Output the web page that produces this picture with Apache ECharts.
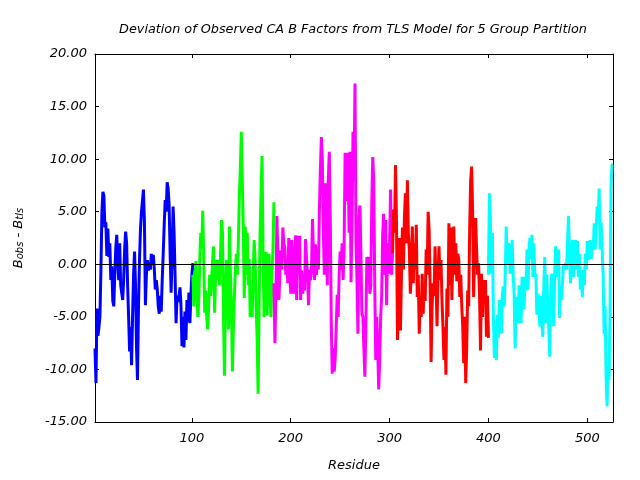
<!DOCTYPE html>
<html><head><meta charset="utf-8">
<script src="https://cdn.jsdelivr.net/npm/echarts@6/dist/echarts.min.js"></script>
<style>html,body{margin:0;padding:0;background:#fff}#c{width:640px;height:480px}</style>
</head><body><div id="c"></div>
<script>
// ---- data ----
const titleText = 'Deviation of Observed CA B Factors from TLS Model for 5 Group Partition';
const xName = 'Residue';
const xMin = 2, xMax = 526;
const xTicks = [100, 200, 300, 400, 500];
const yMin = -15, yMax = 20, yStep = 5;

const blueStart = 2;
const blueValues = [
 -8.0, -11.3, -4.2, -6.8, -6.0, -5.0, -0.5, 5.0, 6.9, 6.5,
 3.5, 4.0, 0.8, 3.4, 0.7, 2.0, -1.5, -0.2, -3.5, -4.0,
 -1.0, 1.5, 2.8, 0.2, -1.5, 2.0, -2.0, -2.7, -3.4, -1.5,
 1.5, 3.1, 2.0, -2.0, -5.0, -8.3, -6.0, -9.6, -5.0, -1.0,
 1.2, -2.0, -8.0, -11.0, -4.0, 0.4, 3.3, 5.0, 6.0, 7.1,
 4.0, -3.9, -1.0, 0.4, -0.6, 0.2, -0.5, 1.0, 0.0, 0.9,
 -0.5, -2.4, -1.5, -2.4, -4.0, -4.7, -3.0, -4.5, -1.5, 1.0,
 3.7, 6.1, 5.0, 7.8, 7.2, 5.6, 1.0, -2.7, 0.5, 5.5,
 3.0, -1.0, -5.6, -3.0, -3.6, -3.0, -2.2, -4.0, -7.8, -5.0,
 -7.9, -4.5, -7.2, -3.4, -5.5, -2.7, -5.6, -3.0, -1.0, 0.1
];
const greenStart = 101;
const greenValues = [
 -1.0, -4.0, -2.0, 0.3, -2.0, -5.0, -3.5, 0.5, 3.0, 1.5,
 5.1, 0.5, -4.6, -2.5, -5.0, -6.2, -4.0, -1.0, -3.0, -1.5,
 0.5, 1.7, -4.6, -1.0, 0.4, -1.5, 0.4, -2.0, 1.0, 4.2,
 3.0, -5.0, -10.6, -3.0, 0.4, -2.0, -6.2, 3.6, -1.0, -4.0,
 -10.2, -6.0, -3.1, -0.5, 1.0, -1.0, 2.0, 6.4, 9.0, 12.6,
 8.0, 3.6, -3.2, 3.6, -1.0, 3.0, -2.0, 0.5, -5.0, -2.5,
 -5.0, -1.0, 2.3, 0.4, -4.0, -7.0, -12.3, -4.0, 3.0, 7.0,
 10.3, 1.0, -5.0, -1.0, 1.2, -4.9, -2.0, 1.0, -3.0, -5.0,
 -1.0, 1.2, 5.9
];
const magentaStart = 183;
const magentaValues = [
 -1.8, -7.5, -3.0, 4.6, 1.0, -3.4, -1.0, 1.3, -0.5, 3.5,
 2.0, 1.6, -1.0, 0.5, -1.8, 2.5, -0.5, -2.8, 2.3, -1.0,
 -2.8, 1.0, 2.75, -3.4, 2.7, -1.0, 2.7, -3.4, -0.6, -2.8,
 -1.0, -2.5, 2.4, 0.5, -1.0, -3.9, -0.5, -1.5, -0.5, 4.3,
 1.0, -1.5, 1.9, -1.0, 0.5, -0.5, 5.1, 9.0, 12.1, 9.9,
 3.0, -1.0, 7.7, 4.0, -2.0, 8.0, 10.7, 4.5, -5.5, -10.4,
 -8.0, -10.2, -8.9, -6.0, -2.9, -5.0, -1.0, 1.2, -0.5, 2.0,
 -1.5, 1.5, 10.6, 6.0, 9.0, 10.6, 3.0, 10.7, -1.7, 4.0,
 12.6, 8.0, 17.2, 2.3, -1.6, -6.6, 4.5, 5.6, 1.0, -4.7,
 -5.0, -8.0, -10.7, -6.0, 0.7, -1.0, 0.7, -2.8, -2.0, 6.0,
 10.2, 7.9, -2.0, -9.1, -5.0, -8.0, -11.9, -9.0, -5.0, -3.0,
 2.8, 4.8, -1.0, 4.2, -3.9, 2.0, -0.9, 2.0, 7.1, -1.0, 1.0
];
const redStart = 303;
const redValues = [
 1.0, 5.2, 3.0, 9.45, 4.0, -7.2, -4.0, 2.5, -6.3, -1.0,
 3.5, -0.5, 4.4, 6.75, 2.0, 8.0, 3.0, 1.3, -2.8, -1.0,
 3.6, -1.8, 2.0, -0.5, 3.75, -3.1, -1.0, -6.6, -3.0, -5.0,
 -0.9, -4.7, -2.0, -3.5, 1.4, -1.0, 5.0, 3.3, -2.0, -9.3,
 -4.0, -1.8, -3.0, 1.7, -2.0, -5.9, -1.0, 1.7, -1.5, 0.4,
 -3.4, -6.0, -9.1, -6.0, -10.5, -2.3, -5.0, 3.9, -2.0, 3.5,
 -3.4, 0.5, 3.6, -1.0, 2.0, -1.6, 1.0, 0.4, -3.1, -1.0,
 -3.9, -6.0, -9.4, -5.0, -11.3, -8.0, -2.5, -4.0, 3.3, 7.9,
 9.3, 5.0, -3.1, 1.0, 4.4, 1.4, -1.0, 0.1, -3.0, -8.2,
 -0.9, -5.0, -1.5, -3.5, -1.5, -6.9, -3.0, -7.0
];
const cyanStart = 400;
const cyanValues = [
 -1.0, 6.75, 4.2, -0.9, 3.0, -5.0, -8.9, -6.0, -9.1, -4.8,
 -7.0, -3.4, -5.0, -6.6, -3.0, -2.1, -4.0, -1.0, 3.6, 0.0,
 2.0, 1.7, -0.9, 1.0, 2.3, -1.0, -2.8, -8.0, -4.0, -3.1,
 -5.6, -2.0, -3.1, -5.6, -1.2, -3.0, -4.3, -1.2, -2.5, 1.4,
 -2.4, 1.4, 2.5, 0.5, 2.8, -1.2, 2.0, -1.2, -0.9, -4.8,
 -2.8, -4.0, -5.9, -3.0, -5.0, -6.9, -2.0, 0.7, -5.6, -1.0,
 -4.0, -6.0, -8.8, -3.0, -0.9, -3.0, -5.9, -1.0, 1.7, -1.2,
 0.5, 1.4, -5.1, -2.0, -3.4, -1.5, 0.0, -0.5, 0.1, -0.5,
 2.0, 4.6, 1.0, -1.8, 0.5, 2.3, -1.2, 1.0, 2.3, -0.5,
 2.2, -1.2, 1.0, -2.4, -1.0, -3.1, -0.5, -2.0, 1.0, -0.5,
 2.2, 0.4, 1.5, 2.3, 0.5, 2.0, 1.4, 3.9, 1.4, 3.5,
 5.5, 4.0, 7.2, 1.4, 4.0, 1.4, -1.0, -6.6, -4.0, -10.7,
 -13.5, -9.7, -11.0, -4.8, 7.4, 9.45, 9.5
];

// ---- chart ----
const FONT = 'DejaVu Sans';
const groups = [
  { start: blueStart, values: blueValues, color: '#0000ff' },
  { start: greenStart, values: greenValues, color: '#00ff00' },
  { start: magentaStart, values: magentaValues, color: '#ff00ff' },
  { start: redStart, values: redValues, color: '#ff0000' },
  { start: cyanStart, values: cyanValues, color: '#00ffff' }
];
function pairs(start, vals) { return vals.map((v, i) => [start + i, v]); }

const txt = { fontFamily: FONT, fontStyle: 'italic', fontWeight: 'normal', fontSize: 13, color: '#000' };
const frameLine = { show: true, onZero: false, lineStyle: { color: '#000', width: 1 } };

const series = [{
  type: 'line', data: [], z: 1, silent: true,
  markLine: { silent: true, symbol: 'none', animation: false, label: { show: false },
    lineStyle: { color: '#000', width: 1, type: 'solid' }, data: [{ yAxis: 0 }] }
}];
groups.forEach(g => series.push({
  type: 'line', data: pairs(g.start, g.values), z: 2, silent: true,
  showSymbol: false, symbol: 'none', clip: true,
  lineStyle: { color: g.color, width: 3 }, itemStyle: { color: g.color },
  emphasis: { disabled: true }
}));

const chart = echarts.init(document.getElementById('c'), null, { renderer: 'canvas' });
chart.setOption({
  animation: false,
  backgroundColor: '#ffffff',
  title: { text: titleText, left: 348, top: 18, textAlign: 'center',
    textStyle: Object.assign({}, txt, { fontSize: 12.8 }) },
  grid: { left: 95, right: 27, top: 54, bottom: 58, containLabel: false },
  xAxis: [{
    type: 'value', min: xMin, max: xMax, position: 'bottom',
    axisLine: frameLine,
    axisTick: { show: true, inside: true, length: 4, customValues: xTicks, lineStyle: { color: '#000' } },
    axisLabel: Object.assign({ customValues: xTicks, margin: 10 }, txt),
    splitLine: { show: false },
    name: xName, nameLocation: 'middle', nameGap: 37, nameTextStyle: txt
  }, {
    type: 'value', min: xMin, max: xMax, position: 'top',
    axisLine: frameLine,
    axisTick: { show: true, inside: true, length: 4, customValues: xTicks, lineStyle: { color: '#000' } },
    axisLabel: { show: false }, splitLine: { show: false }
  }],
  yAxis: [{
    type: 'value', min: yMin, max: yMax, interval: yStep, position: 'left',
    axisLine: frameLine,
    axisTick: { show: true, inside: true, length: 4, lineStyle: { color: '#000' } },
    axisLabel: Object.assign({ margin: 8, formatter: v => v.toFixed(2) }, txt),
    splitLine: { show: false },
    name: '{b|B}{s|obs}{b| - B}{s|tls}', nameLocation: 'middle', nameGap: 70, nameRotate: 90,
    nameTextStyle: Object.assign({}, txt, { rich: {
      b: { fontFamily: FONT, fontStyle: 'italic', fontSize: 13, color: '#000', lineHeight: 16, verticalAlign: 'bottom' },
      s: { fontFamily: FONT, fontStyle: 'italic', fontSize: 10, color: '#000', lineHeight: 10, padding: [4, 0, 0, 0], verticalAlign: 'bottom' }
    } })
  }, {
    type: 'value', min: yMin, max: yMax, interval: yStep, position: 'right',
    axisLine: frameLine,
    axisTick: { show: true, inside: true, length: 4, lineStyle: { color: '#000' } },
    axisLabel: { show: false }, splitLine: { show: false }
  }],
  series: series
});
</script>
</body></html>
